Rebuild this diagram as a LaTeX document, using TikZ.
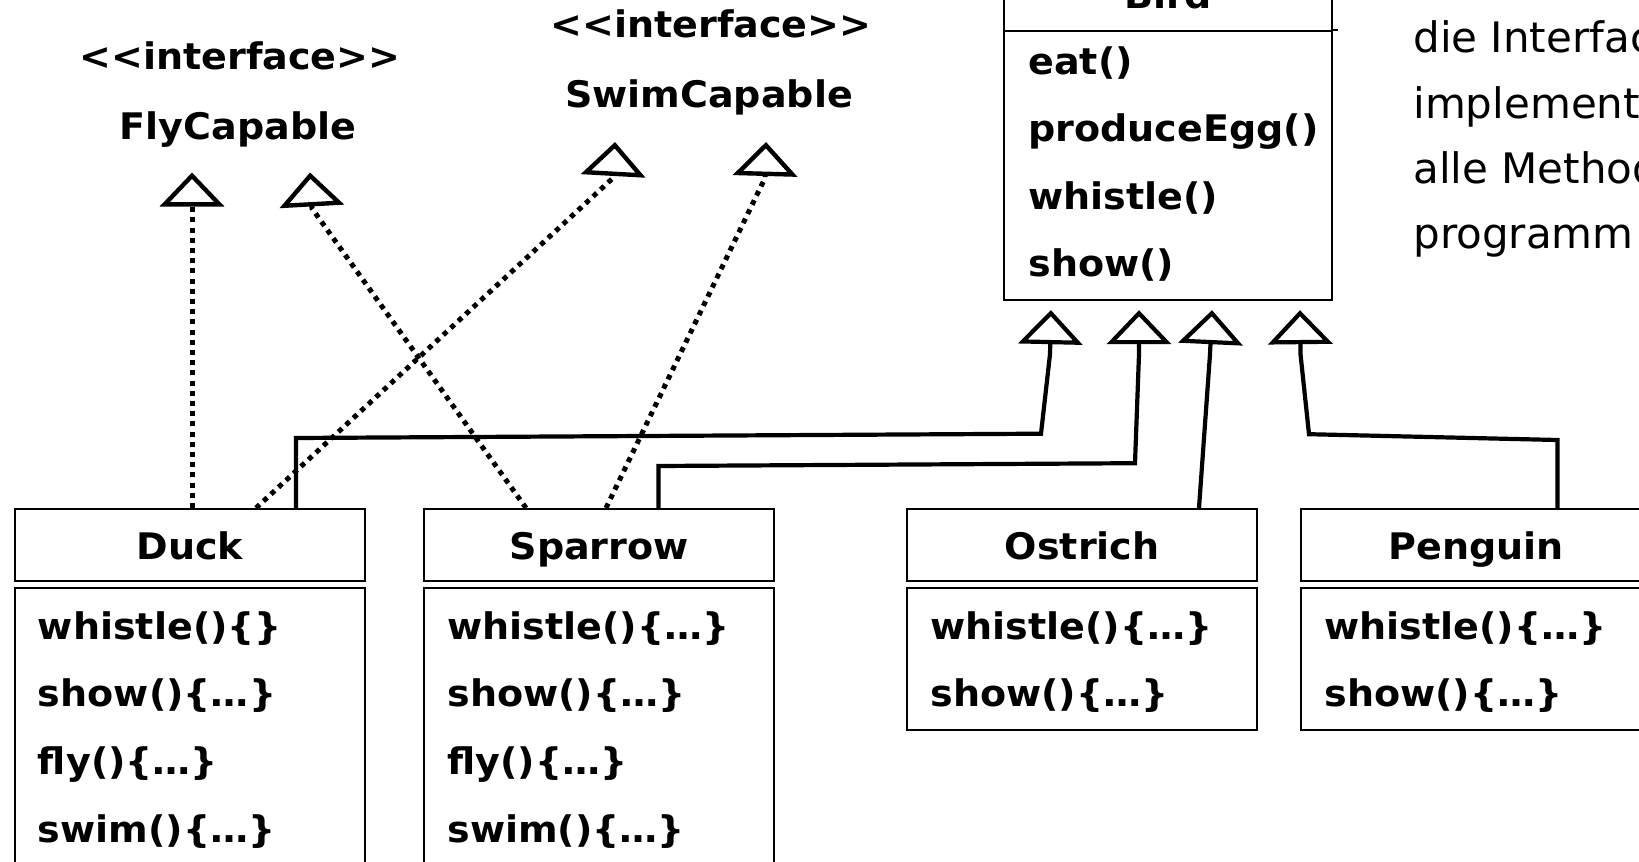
\documentclass[tikz,border=0pt]{standalone}
\usepackage{fontspec}
\setmainfont{DejaVu Sans}
\newfontfamily\umlfam{DejaVu Sans}[FakeStretch=1.04]
\usetikzlibrary{arrows.meta,calc}
\newcommand\umlbf{\umlfam\fontsize{18.3pt}{35pt}\selectfont\bfseries}
\newcommand\notefont{\fontsize{21pt}{32.5pt}\selectfont}
\newcommand\stereo{\textless\kern0pt\textless interface\textgreater\kern0pt\textgreater}
\begin{document}
\begin{tikzpicture}[x=0.5pt,y=-0.5pt,
  every node/.style={inner sep=0pt},
  box/.style={draw,line width=1.1pt,minimum width=175.1pt,anchor=north west},
  head/.style={box,minimum height=36pt,font=\umlbf,text height=17pt,text depth=3pt},
  meth/.style={anchor=base west,font=\umlbf},
  title/.style={anchor=base,font=\umlbf},
  note/.style={anchor=base west,font=\notefont},
  inherit/.style={line width=2.1pt,line join=miter,
    -{Triangle[open,length=17pt,width=32pt]}},
  realize/.style={line width=2.5pt,dash pattern=on 2.5pt off 2.6pt,
    -{Triangle[open,length=17pt,width=32pt,line width=2.2pt]}},
]
\clip (0,0) rectangle (1639,862);

% superclass Bird
\node[head,minimum width=164pt,minimum height=36.5pt] (birdH) at (1003,-43) {Bird};
\node[box,minimum width=164pt,minimum height=134.5pt] (birdB) at (1003,30) {};
\draw[line width=1.1pt] (birdB.north east) -- ++(5,0);
\node[meth] (bm1) at (1028,74) {eat()};
\node[meth] (bm2) at (1028,141.5) {produceEgg()};
\node[meth] (bm3) at (1028,209) {whistle()};
\node[meth] (bm4) at (1028,276.5) {show()};

% interfaces
\node[title] (flyS) at (240,69) {\stereo};
\node[title] (fly) at (238,139) {FlyCapable};
\node[title] (swimS) at (711,37.6) {\stereo};
\node[title] (swim) at (709,107.7) {SwimCapable};

% subclasses
\node[head] (duckH) at (13.6,508) {Duck};
\node[box,minimum height=160pt] (duckB) at (13.6,586.5) {};
\node[meth] at (37.6,639) {whistle()\{\}};
\node[meth] at (37.6,706.6) {show()\{…\}};
\node[meth] at (37.6,774.4) {fly()\{…\}};
\node[meth] at (37.6,842.2) {swim()\{…\}};

\node[head] (sparH) at (423,508) {Sparrow};
\node[box,minimum height=160pt] (sparB) at (423,586.5) {};
\node[meth] at (447,639) {whistle()\{…\}};
\node[meth] at (447,706.6) {show()\{…\}};
\node[meth] at (447,774.4) {fly()\{…\}};
\node[meth] at (447,842.2) {swim()\{…\}};

\node[head] (ostH) at (906,508) {Ostrich};
\node[box,minimum height=71pt] (ostB) at (906,586.5) {};
\node[meth] at (930,639) {whistle()\{…\}};
\node[meth] at (930,706.6) {show()\{…\}};

\node[head] (penH) at (1300,508) {Penguin};
\node[box,minimum height=71pt] (penB) at (1300,586.5) {};
\node[meth] at (1324,639) {whistle()\{…\}};
\node[meth] at (1324,706.6) {show()\{…\}};

% side note
\node[note] (n1) at (1413,53) {die Interfac};
\node[note] (n2) at (1413,118) {implement};
\node[note] (n3) at (1413,183) {alle Method};
\node[note] (n4) at (1413,248) {programm};

% arrow ports
\coordinate (flyP1) at ($(fly.base)+(-46,33.5)$);
\coordinate (flyP2) at ($(fly.base)+(72,33.5)$);
\coordinate (swimP1) at ($(swim.base)+(-94,34.3)$);
\coordinate (swimP2) at ($(swim.base)+(57,34.3)$);
\coordinate (birdP1) at ($(birdB.south west)+(48,9)$);
\coordinate (birdP2) at ($(birdB.south west)+(136,9)$);
\coordinate (birdP3) at ($(birdB.south west)+(209,9)$);
\coordinate (birdP4) at ($(birdB.south west)+(297,9)$);

% generalisation
\draw[inherit] ($(duckH.north west)+(282.4,0)$) -- ++(0,-70)
  -- ($(birdP1)+(-10,123.5)$) -- ($(birdP1)+(-1,44)$) -- (birdP1);
\draw[inherit] ($(sparH.north west)+(235.5,0)$) -- ++(0,-42)
  -- ($(birdP2)+(-4,153)$) -- ($(birdP2)+(0,44)$) -- (birdP2);
\draw[inherit] ($(ostH.north west)+(293,0)$)
  -- ($(birdP3)+(-2,44)$) -- (birdP3);
\draw[inherit] ($(penH.north west)+(257.5,0)$) -- ++(0,-68)
  -- ($(birdP4)+(9,124)$) -- ($(birdP4)+(0.5,44)$) -- (birdP4);

% realisation
\draw[realize] ($(duckH.north west)+(178.4,0)$) -- (flyP1);
\draw[realize] ($(sparH.north west)+(103,0)$) -- ($(flyP2)+(2,36)$) -- (flyP2);
\draw[realize] ($(duckH.north west)+(242.4,0)$) -- ($(swimP1)+(-2,36)$) -- (swimP1);
\draw[realize] ($(sparH.north west)+(183,0)$) -- ($(swimP2)+(-1,36)$) -- (swimP2);
\end{tikzpicture}
\end{document}
